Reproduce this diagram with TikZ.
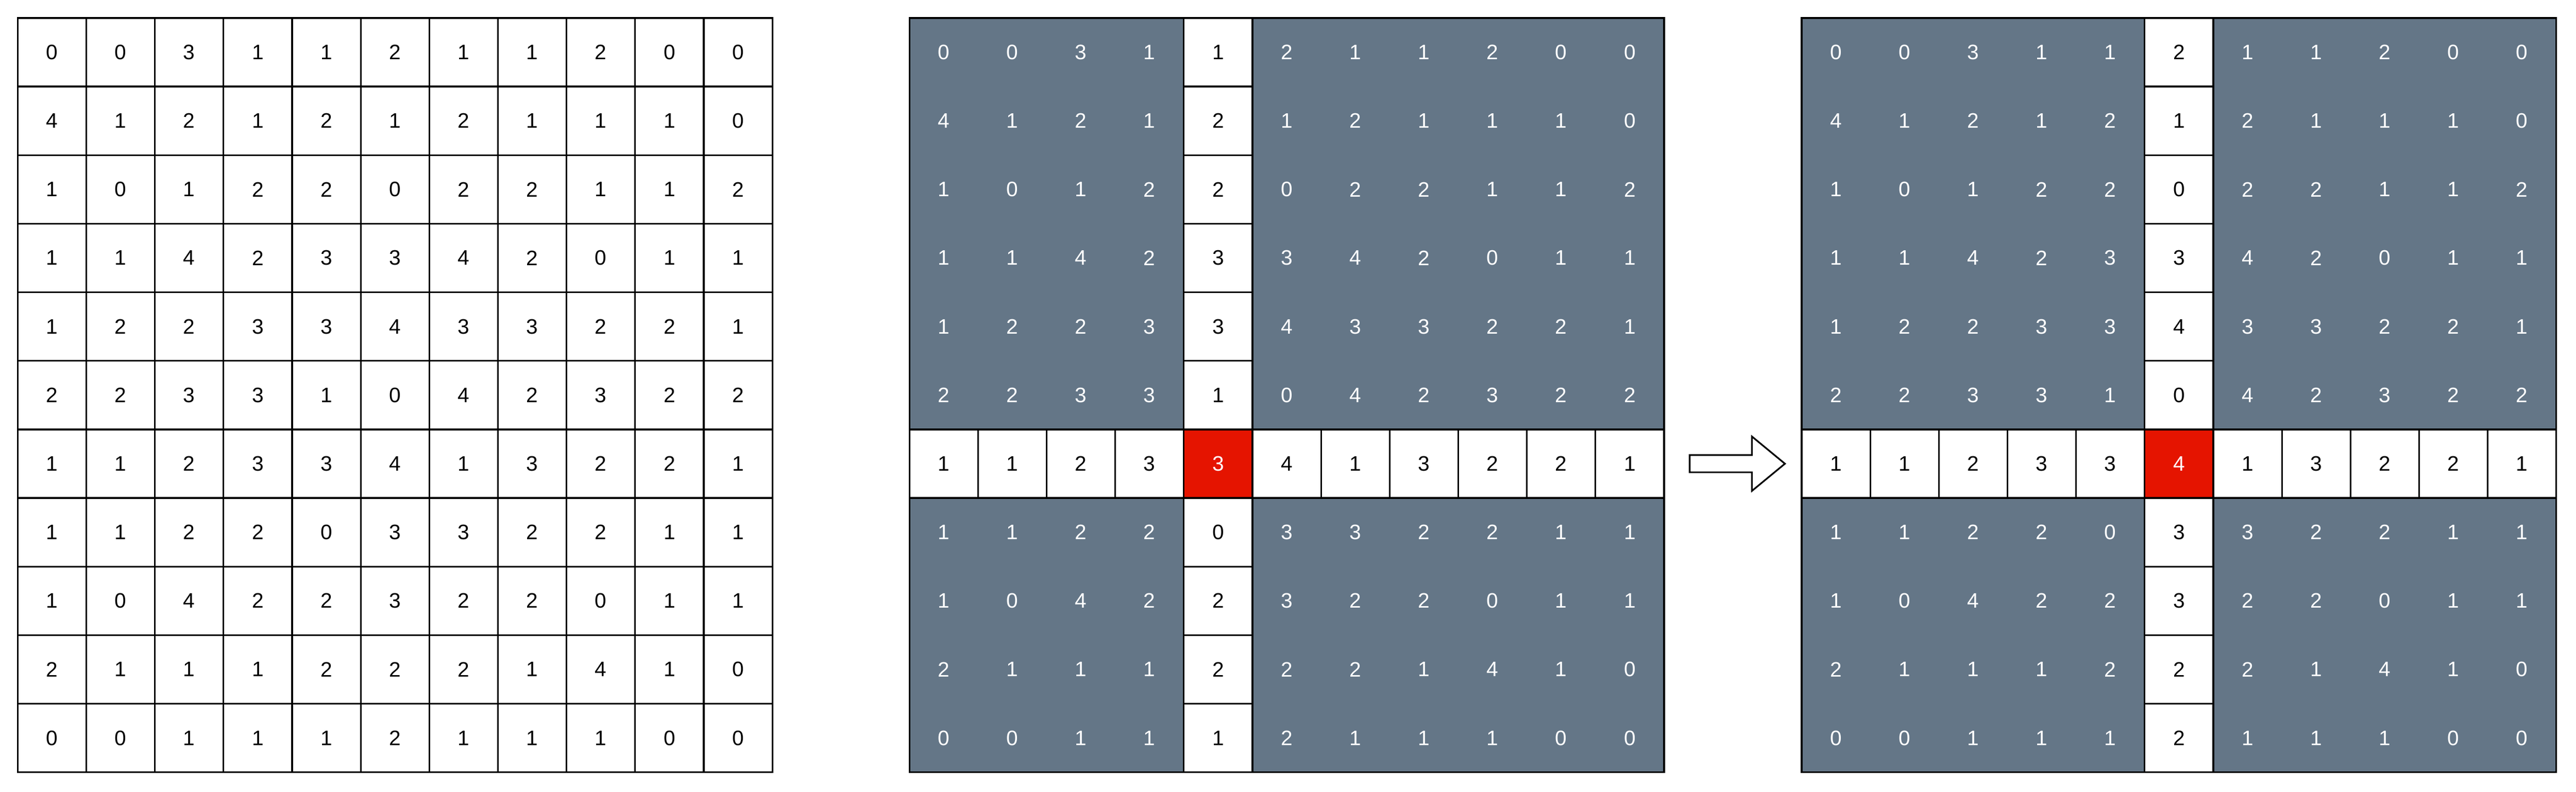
\documentclass[tikz,border=0pt]{standalone}
\usepackage{fontspec}
\setmainfont{Liberation Sans}
\definecolor{slate}{RGB}{100,118,135}
\definecolor{hotred}{RGB}{229,20,0}
\tikzset{
  cell/.style={minimum size=1.6cm, inner sep=0pt, line width=1.1pt, font=\fontsize{13.9}{16}\selectfont},
  plaincell/.style={cell, draw=black, fill=white, text=black},
  graycell/.style={cell, text=white},
  whitecell/.style={cell, draw=black, fill=white, text=black},
  hotcell/.style={cell, draw=black, fill=hotred, text=white},
  cellkind/.code 2 args={\ifnum#1=6\relax
      \ifnum#2=\hot\relax\pgfkeysalso{hotcell}\else\pgfkeysalso{whitecell}\fi
    \else
      \ifnum#2=\hot\relax\pgfkeysalso{whitecell}\else\pgfkeysalso{graycell}\fi
    \fi},
  blockarrow/.style={draw=black, fill=white, line width=1.1pt},
}
% values of the 11x11 grid
\def\gridvals{{0,0,3,1,1,2,1,1,2,0,0},{4,1,2,1,2,1,2,1,1,1,0},{1,0,1,2,2,0,2,2,1,1,2},
  {1,1,4,2,3,3,4,2,0,1,1},{1,2,2,3,3,4,3,3,2,2,1},{2,2,3,3,1,0,4,2,3,2,2},
  {1,1,2,3,3,4,1,3,2,2,1},{1,1,2,2,0,3,3,2,2,1,1},{1,0,4,2,2,3,2,2,0,1,1},
  {2,1,1,1,2,2,2,1,4,1,0},{0,0,1,1,1,2,1,1,1,0,0}}
\begin{document}
\begin{tikzpicture}
\useasboundingbox (0,0) rectangle (60.08,-18.48);
% plain grid
\foreach \row [count=\r from 0] in \gridvals
  \foreach \v [count=\c from 0] in \row
    \node[plaincell] (a-\r-\c) at ({0.413+0.8+1.6*\c},{-0.42-0.8-1.6*\r}) {\v};
% grids with the cross
\foreach \gx/\hot/\nm in {21.21/4/b, 42.02/5/c} {
  \draw[fill=slate, line width=1.1pt] (\gx,-0.42) rectangle ++(17.6,-17.6);
  \foreach \row [count=\r from 0] in \gridvals
    \foreach \v [count=\c from 0] in \row
      \node[cellkind={\r}{\c}] (\nm-\r-\c) at ({\gx+0.8+1.6*\c},{-0.42-0.8-1.6*\r}) {\v};
}
% arrow
\coordinate (arr) at ([xshift=0.58cm]b-6-10.east);
\draw[blockarrow] (arr) ++(0,0.2) -- ++(1.45,0) -- ++(0,0.435) -- ++(0.77,-0.635)
  -- ++(-0.77,-0.635) -- ++(0,0.435) -- ++(-1.45,0) -- cycle;
\end{tikzpicture}
\end{document}
